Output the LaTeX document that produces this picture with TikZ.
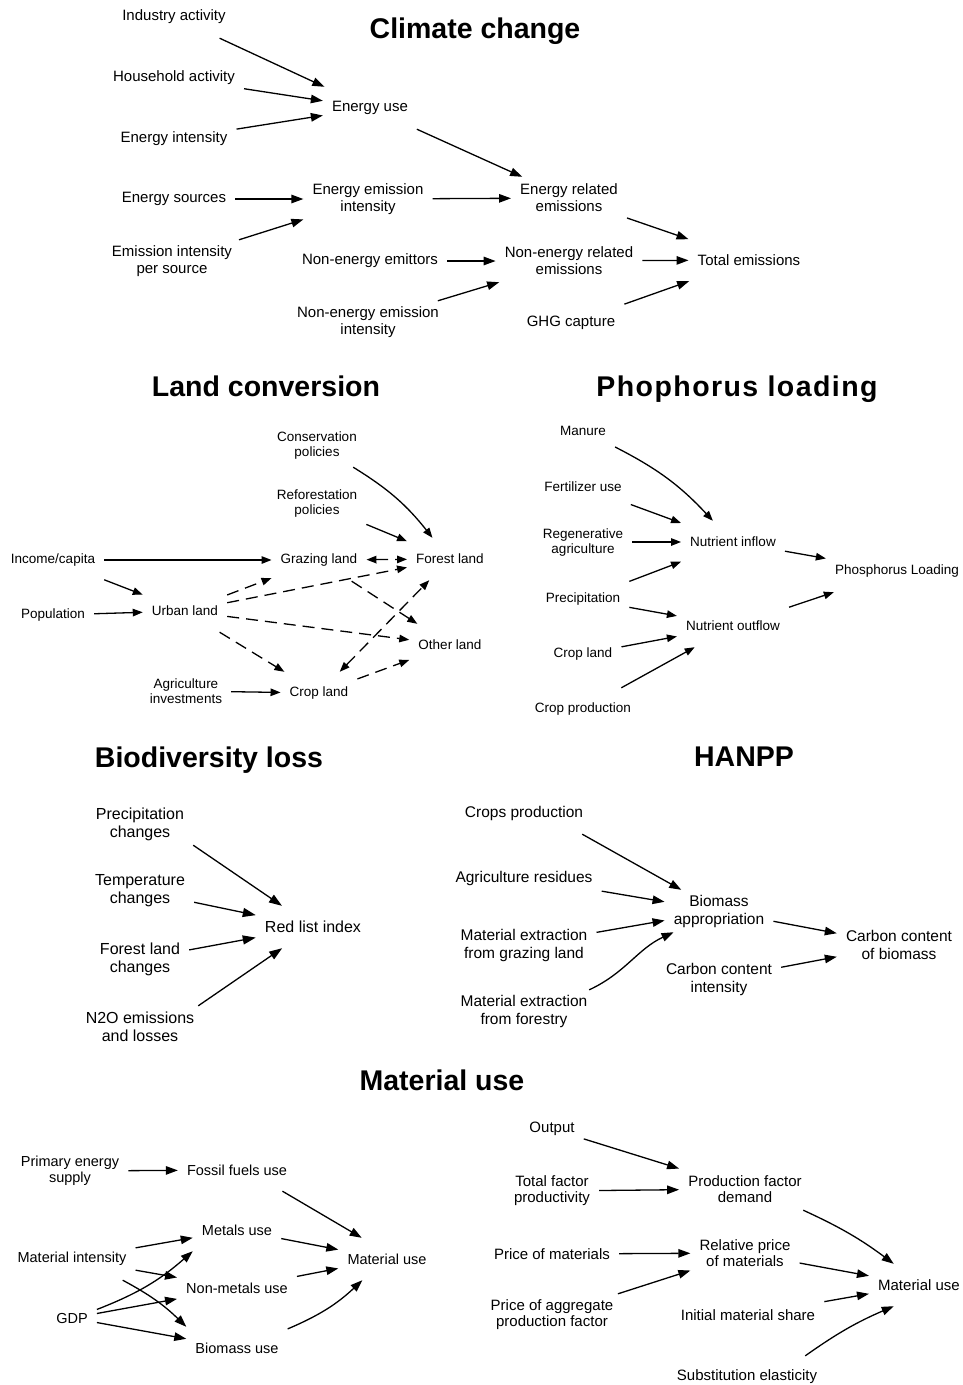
\documentclass[tikz,border=0pt]{standalone}
\usepackage{fontspec}
\setmainfont{Liberation Sans}
\usetikzlibrary{arrows.meta}

\begin{document}
\begin{tikzpicture}[x=1pt, y=1pt,
    >={Triangle[length=12pt, width=8.5pt]},
    var/.style={align=center, inner xsep=9pt, inner ysep=3pt, minimum height=42pt},
    ttl/.style={font=\fontsize{28.5}{32}\selectfont\bfseries},
    arr/.style={->, line width=1.3pt},
    dsh/.style={arr, dash pattern=on 12pt off 7pt}]
\useasboundingbox (0,0) rectangle (963,-1385);

% titles
\node[ttl] (cctitle) at (475,-31) {Climate change};
\node[ttl] (lctitle) at (266,-386) {Land conversion};
\node[ttl] (pltitle) at (737,-389) {\addfontfeature{LetterSpace=5}Phophorus loading};
\node[ttl] (bltitle) at (209,-760) {Biodiversity loss};
\node[ttl] (hptitle) at (744,-757) {HANPP};
\node[ttl] (mutitle) at (442,-1080) {Material use};

% climate change
\begin{scope}[font=\fontsize{15}{17}\selectfont]
\node[var] (ind) at (174,-17) {Industry activity};
\node[var] (hou) at (174,-78) {Household activity};
\node[var] (ein) at (174,-139) {Energy intensity};
\node[var] (euse) at (370,-108) {Energy use};
\node[var] (esrc) at (174,-199) {Energy sources};
\node[var] (eips) at (172,-261) {Emission intensity\\per source};
\node[var] (eei) at (368,-199) {Energy emission\\intensity};
\node[var] (nee) at (370,-261) {Non-energy emittors};
\node[var] (neei) at (368,-322) {Non-energy emission\\intensity};
\node[var] (ere) at (569,-198) {Energy related\\emissions};
\node[var] (nere) at (569,-261) {Non-energy related\\emissions};
\node[var] (ghg) at (571,-323) {GHG capture};
\node[var] (tot) at (749,-260) {Total emissions};

\draw[arr] (ind) -- (euse);
\draw[arr] (hou) -- (euse);
\draw[arr] (ein) -- (euse);
\draw[arr] (euse) -- (ere);
\draw[arr] (esrc) -- (eei);
\draw[arr] (eips) -- (eei);
\draw[arr] (eei) -- (ere);
\draw[arr] (nee) -- (nere);
\draw[arr] (neei) -- (nere);
\draw[arr] (ere) -- (tot);
\draw[arr] (nere) -- (tot);
\draw[arr] (ghg) -- (tot);
\end{scope}

% land conversion
\begin{scope}[font=\fontsize{13.5}{15}\selectfont, >={Triangle[length=10pt, width=7.5pt]}]
\node[var] (cons) at (317,-446) {Conservation\\policies};
\node[var] (refo) at (317,-504) {Reforestation\\policies};
\node[var] (inc) at (53,-560) {Income/capita};
\node[var] (graz) at (319,-560) {Grazing land};
\node[var] (fore) at (450,-559) {Forest land};
\node[var] (urb) at (185,-611) {Urban land};
\node[var] (pop) at (53,-615) {Population};
\node[var] (oth) at (450,-645) {Other land};
\node[var] (agi) at (186,-691) {Agriculture\\investments};
\node[var] (crop) at (319,-693) {Crop land};

\draw[arr] (cons) to[bend left=10] (fore);
\draw[arr] (refo) -- (fore);
\draw[arr] (inc) -- (graz);
\draw[arr] (inc) -- (urb);
\draw[arr] (pop) -- (urb);
\draw[arr] (agi) -- (crop);
\draw[dsh, <->] (graz) -- (fore);
\draw[dsh] (urb) -- (graz);
\draw[dsh] (urb) -- (fore);
\draw[dsh] (urb) -- (oth);
\draw[dsh] (urb) -- (crop);
\draw[dsh] (graz) -- (oth);
\draw[dsh, <->] (crop) -- (fore);
\draw[dsh] (crop) -- (oth);
\end{scope}

% phosphorus loading
\begin{scope}[font=\fontsize{13.5}{15}\selectfont, >={Triangle[length=10pt, width=7.5pt]}]
\node[var] (man) at (583,-431) {Manure};
\node[var] (fert) at (583,-487) {Fertilizer use};
\node[var] (rega) at (583,-542) {Regenerative\\agriculture};
\node[var] (prec) at (583,-599) {Precipitation};
\node[var] (cpl) at (583,-654) {Crop land};
\node[var] (cprd) at (583,-709) {Crop production};
\node[var] (nin) at (733,-542) {Nutrient inflow};
\node[var] (nout) at (733,-626) {Nutrient outflow};
\node[var] (ploa) at (897,-571) {Phosphorus Loading};

\draw[arr] (man) to[bend left=10] (nin);
\draw[arr] (fert) -- (nin);
\draw[arr] (rega) -- (nin);
\draw[arr] (prec) -- (nin);
\draw[arr] (prec) -- (nout);
\draw[arr] (cpl) -- (nout);
\draw[arr] (cprd) -- (nout);
\draw[arr] (nin) -- (ploa);
\draw[arr] (nout) -- (ploa);
\end{scope}

% biodiversity loss
\begin{scope}[font=\fontsize{16}{18}\selectfont, >={Triangle[length=13pt, width=9pt]}]
\node[var] (pchg) at (140,-824) {Precipitation\\changes};
\node[var] (tchg) at (140,-891) {Temperature\\changes};
\node[var] (fchg) at (140,-959) {Forest land\\changes};
\node[var] (n2o) at (140,-1027) {N2O emissions\\and losses};
\node[var] (rli) at (313,-927) {Red list index};

\draw[arr] (pchg.south east) -- (rli);
\draw[arr] (tchg) -- (rli);
\draw[arr] (fchg) -- (rli);
\draw[arr] (n2o.20) -- (rli);
\end{scope}

% HANPP
\begin{scope}[font=\fontsize{15.5}{18}\selectfont]
\node[var] (crp) at (524,-813) {Crops production};
\node[var] (agr) at (524,-878) {Agriculture residues};
\node[var] (mxg) at (524,-945) {Material extraction\\from grazing land};
\node[var] (mxf) at (524,-1011) {Material extraction\\from forestry};
\node[var] (bio) at (719,-911) {Biomass\\appropriation};
\node[var] (cci) at (719,-979) {Carbon content\\intensity};
\node[var] (ccb) at (899,-945) {Carbon content\\of biomass};

\draw[arr] (crp.-20) -- (bio);
\draw[arr] (agr) -- (bio);
\draw[arr] (mxg) -- (bio);
\draw[arr] (mxf.18) to[out=25, in=205] (bio);
\draw[arr] (bio) -- (ccb);
\draw[arr] (cci) -- (ccb);
\end{scope}

% material use, left
\begin{scope}[font=\fontsize{14.5}{16}\selectfont]
\node[var] (pes) at (70,-1171) {Primary energy\\supply};
\node[var] (ffu) at (237,-1170) {Fossil fuels use};
\node[var] (mtu) at (237,-1230) {Metals use};
\node[var] (mint) at (72,-1259) {Material intensity};
\node[var] (nmu) at (237,-1288) {Non-metals use};
\node[var] (gdp) at (72,-1318) {GDP};
\node[var] (bmu) at (237,-1348) {Biomass use};
\node[var] (lmu) at (387,-1259) {Material use};

\draw[arr] (pes) -- (ffu);
\draw[arr] (ffu.-25) -- (lmu.140);
\draw[arr] (mtu) -- (lmu);
\draw[arr] (nmu) -- (lmu);
\draw[arr] (bmu) to[bend right=10] (lmu);
\draw[arr] (mint) -- (mtu);
\draw[arr] (mint) -- (nmu);
\draw[arr] (mint) to[bend left=8] (bmu.north west);
\draw[arr] (gdp) to[bend right=10] (mtu.south west);
\draw[arr] (gdp) -- (nmu);
\draw[arr] (gdp) -- (bmu);
\end{scope}

% material use, right
\begin{scope}[font=\fontsize{15}{16}\selectfont]
\node[var] (outp) at (552,-1129) {Output};
\node[var] (tfp) at (552,-1191) {Total factor\\productivity};
\node[var] (pom) at (552,-1254) {Price of materials};
\node[var] (papf) at (552,-1315) {Price of aggregate\\production factor};
\node[var] (pfd) at (745,-1189) {Production factor\\demand};
\node[var] (rpm) at (745,-1253) {Relative price\\of materials};
\node[var] (ims) at (748,-1315) {Initial material share};
\node[var] (sube) at (747,-1377) {Substitution elasticity};
\node[var] (rmu) at (919,-1285) {Material use};

\draw[arr] (outp) -- (pfd);
\draw[arr] (tfp) -- (pfd);
\draw[arr] (pom) -- (rpm);
\draw[arr] (papf) -- (rpm);
\draw[arr] (pfd.-20) to[bend left=6] (rmu.140);
\draw[arr] (rpm) -- (rmu);
\draw[arr] (ims) -- (rmu);
\draw[arr] (sube.20) to[bend left=6] (rmu.220);
\end{scope}
\end{tikzpicture}
\end{document}
